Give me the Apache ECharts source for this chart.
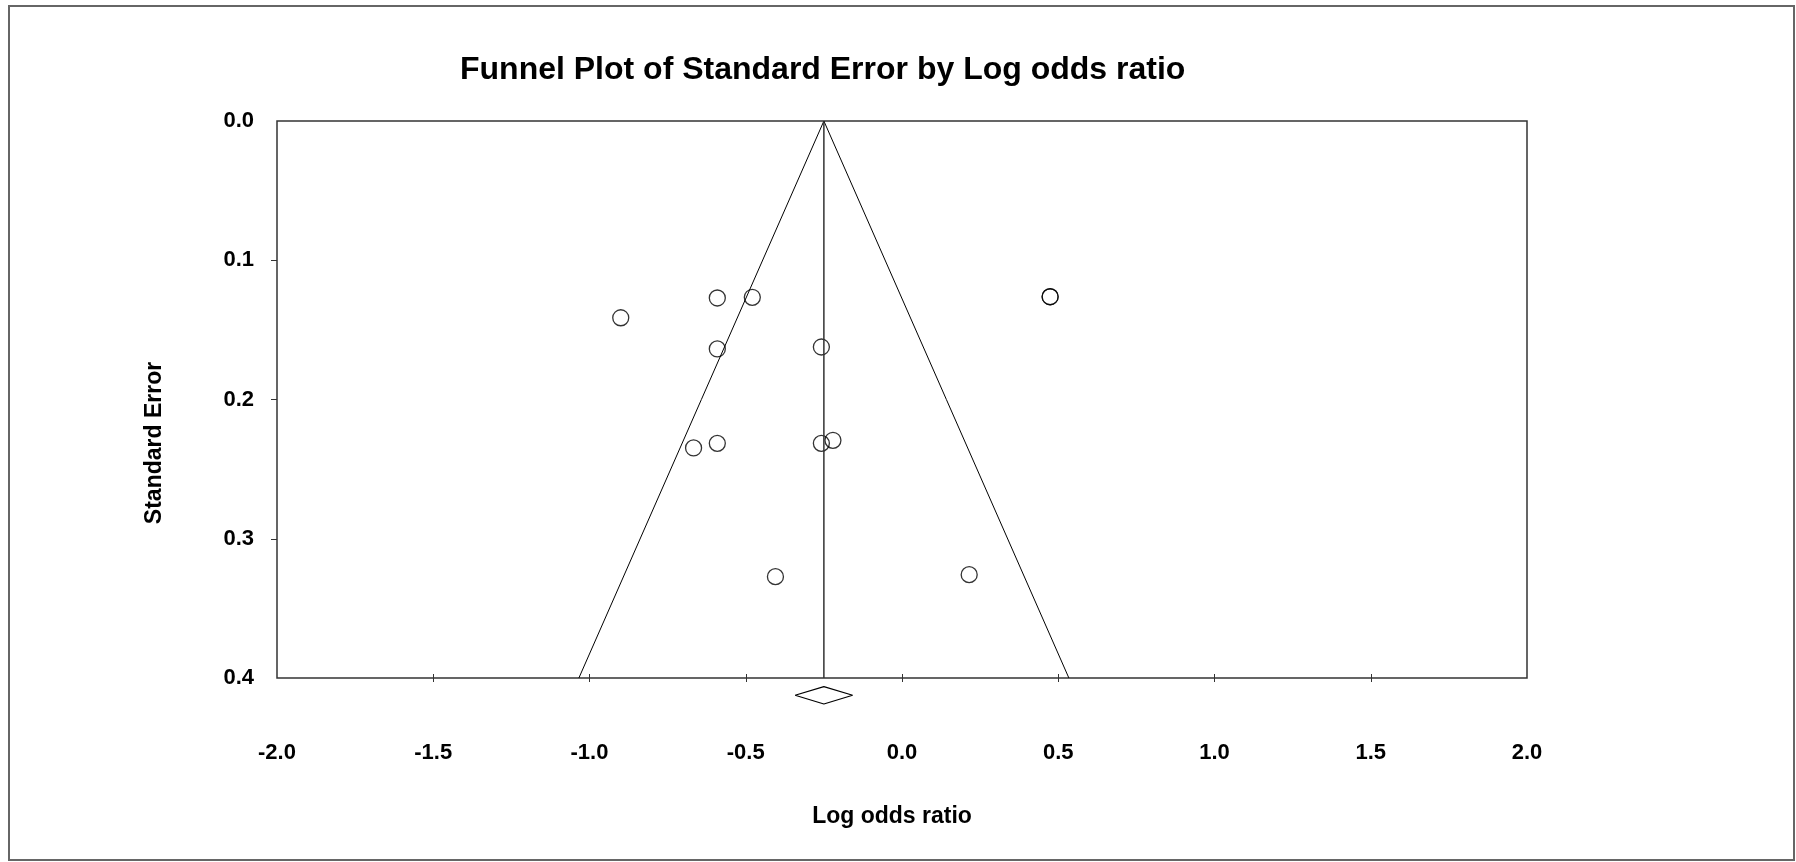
<!DOCTYPE html>
<html>
<head>
<meta charset="utf-8">
<script src="https://cdn.jsdelivr.net/npm/echarts@6/dist/echarts.min.js"></script>
<style>
html,body{margin:0;padding:0;background:#fff;}
#chart{width:1796px;height:862px;}
</style>
</head>
<body>
<div id="chart"></div>
<script>
// ---- data ----
const logOdds = [-0.900, -0.591, -0.479, 0.474, 0.474, -0.591, -0.258, -0.667, -0.591, -0.258, -0.221, -0.405, 0.215];
const stdErr  = [0.1413, 0.1271, 0.1266, 0.1262, 0.1262, 0.1637, 0.1623, 0.2348, 0.2315, 0.2315, 0.2293, 0.3272, 0.3258];

const funnelX = [-1.034, -0.25, 0.534];
const funnelY = [0.4, 0.0, 0.4];

const meanX = [-0.25, -0.25];
const meanY = [0.0, 0.4];

const diamondX = [-0.342, -0.25, -0.158, -0.25, -0.342];
const diamondY = [0.4124, 0.4062, 0.4124, 0.4187, 0.4124];

const xTicks = [-2.0, -1.5, -1.0, -0.5, 0.0, 0.5, 1.0, 1.5, 2.0];
const xTickMarks = [-1.5, -1.0, -0.5, 0.0, 0.5, 1.0, 1.5];
const yTicks = [0.0, 0.1, 0.2, 0.3, 0.4];
const yTickMarks = [0.1, 0.2, 0.3];

const titleText = 'Funnel Plot of Standard Error by Log odds ratio';
const xName = 'Log odds ratio';
const yName = 'Standard Error';

// ---- chart ----
const FONT = '"Liberation Sans", Arial, sans-serif';
const zip = (a, b) => a.map((v, i) => [v, b[i]]);

const chart = echarts.init(document.getElementById('chart'), null, {renderer: 'canvas'});
chart.setOption({
  animation: false,
  backgroundColor: '#fff',
  title: {
    text: titleText,
    left: 460,
    top: 54,
    padding: 0,
    textStyle: {fontFamily: FONT, fontSize: 32, fontWeight: 'bold', color: '#000'}
  },
  graphic: [{
    type: 'rect',
    shape: {x: 9, y: 6, width: 1785, height: 854},
    style: {fill: 'none', stroke: '#666', lineWidth: 2},
    silent: true
  }],
  grid: {
    left: 277, top: 121, width: 1250, height: 557,
    show: true, borderColor: '#333', borderWidth: 1.5, backgroundColor: 'transparent'
  },
  xAxis: [{
    type: 'value', min: -2, max: 2, interval: 0.5, position: 'bottom',
    name: xName, nameLocation: 'middle', nameGap: 127,
    nameTextStyle: {fontFamily: FONT, fontSize: 23, fontWeight: 'bold', color: '#000', padding: [0, 20, 0, 0]},
    axisLine: {show: false, onZero: false},
    axisTick: {show: true, length: 4, customValues: xTickMarks, lineStyle: {color: '#333', width: 1}},
    axisLabel: {
      customValues: xTicks, margin: 64,
      fontFamily: FONT, fontSize: 22, fontWeight: 'bold', color: '#000',
      formatter: v => v.toFixed(1)
    },
    splitLine: {show: false}
  }, {
    type: 'value', min: -2, max: 2, interval: 0.5, position: 'bottom',
    axisLine: {show: false, onZero: false},
    axisTick: {show: true, inside: true, length: 4, customValues: xTickMarks, lineStyle: {color: '#333', width: 1}},
    axisLabel: {show: false},
    splitLine: {show: false}
  }],
  yAxis: {
    type: 'value', min: 0, max: 0.4, interval: 0.1, inverse: true, position: 'left',
    name: yName, nameLocation: 'middle', nameRotate: 90, nameGap: 111,
    nameTextStyle: {fontFamily: FONT, fontSize: 23, fontWeight: 'bold', color: '#000', padding: [0, 87, 0, 0]},
    axisLine: {show: false, onZero: false},
    axisTick: {show: true, length: 6, customValues: yTickMarks, lineStyle: {color: '#333', width: 1}},
    axisLabel: {
      customValues: yTicks, margin: 23,
      fontFamily: FONT, fontSize: 22, fontWeight: 'bold', color: '#000',
      formatter: v => v.toFixed(1)
    },
    splitLine: {show: false}
  },
  series: [{
    name: 'funnel', type: 'line', data: zip(funnelX, funnelY),
    symbol: 'none', lineStyle: {color: '#000', width: 1}, silent: true
  }, {
    name: 'mean', type: 'line', data: zip(meanX, meanY),
    symbol: 'none', lineStyle: {color: '#333', width: 1.5}, silent: true
  }, {
    name: 'summary', type: 'line', data: zip(diamondX, diamondY), clip: false,
    symbol: 'none', lineStyle: {color: '#000', width: 1.2}, silent: true
  }, {
    name: 'studies', type: 'scatter', data: zip(logOdds, stdErr),
    symbol: 'circle', symbolSize: 16,
    itemStyle: {color: 'rgba(0,0,0,0)', borderColor: '#000', borderWidth: 1.3}
  }]
});
</script>
</body>
</html>
